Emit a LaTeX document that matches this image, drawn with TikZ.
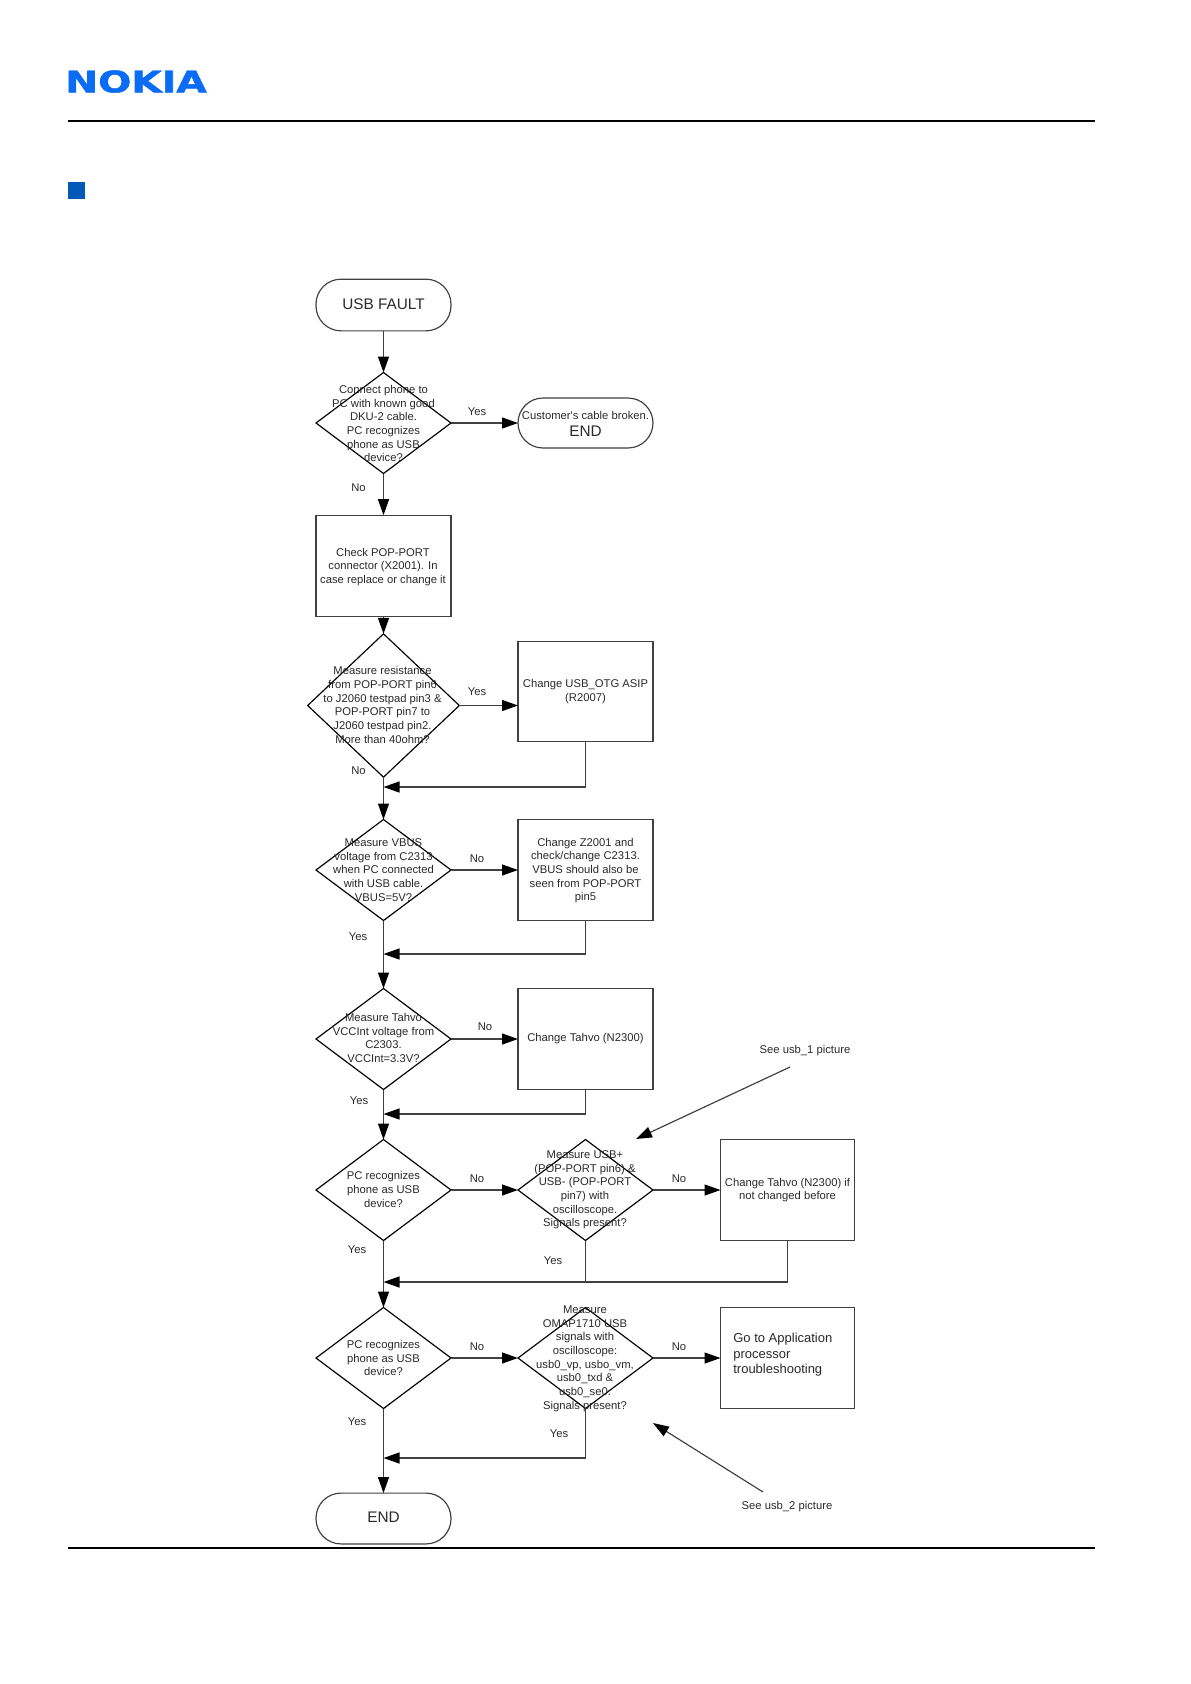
\documentclass[tikz,border=0pt]{standalone}
\usepackage{fontspec}
\usepackage{graphicx}
\setmainfont{Liberation Sans}[Ligatures=TeXOff]
\newfontfamily\nokfont{DejaVu Sans Bold}[FakeBold=1.5]
\usetikzlibrary{shapes.geometric,arrows.meta}
\definecolor{ink}{HTML}{2A2A2A}
\definecolor{nokblue}{HTML}{0A6CF5}
\definecolor{sqblue}{HTML}{0558B8}
\tikzset{
  x=0.6pt,y=-0.6pt,
  flow/.style={draw=black!75,line width=0.7pt},
  arr/.style={flow,-{Triangle[length=9.6pt,width=6.6pt,black]}},
  boxnode/.style={draw=black!75,line width=0.7pt,rectangle,inner sep=0pt,outer sep=0pt},
  ovalnode/.style={boxnode,rounded corners=15pt},
  dia/.style={draw=black,line width=0.7pt,diamond,shape aspect=1.34,inner sep=0pt,outer sep=0pt},
  txt/.style={align=center,text=ink,inner sep=0pt,font=\fontsize{6.75}{8.2}\selectfont},
  lab/.style={text=ink,inner sep=0pt,font=\fontsize{6.75}{8.2}\selectfont},
  big/.style={text=ink,inner sep=0pt,font=\fontsize{9.2}{11}\selectfont},
}
\begin{document}
\begin{tikzpicture}
\useasboundingbox (0,0) rectangle (1191,1684);
\fill[white] (0,0) rectangle (1191,1684);
% page furniture
\node[anchor=north west,inner sep=0pt,text=nokblue] (logo) at (65,70) {\resizebox{84.8pt}{13.2pt}{\nokfont NOKIA}};
\coordinate (tl) at (68,121); \coordinate (tr) at (1095,121);
\draw[line width=1.1pt] (tl) -- (tr);
\coordinate (bl) at (68,1548); \coordinate (br) at (1095,1548);
\draw[line width=1.1pt] (bl) -- (br);
\fill[sqblue] (68,182) rectangle (85,199);
% main column
\node[ovalnode,minimum width=81pt,minimum height=31pt] (start) at (383.5,305) {};
\node[big] (startt) at (383.5,304.5) {USB FAULT};
\node[dia,minimum width=81pt,minimum height=60.6pt] (d1) at (383.5,423) {};
\node[txt] (d1t) at (383.5,423.5) {Connect phone to\\PC with known good\\DKU-2 cable.\\PC recognizes\\phone as USB\\device?};
\node[ovalnode,minimum width=81pt,minimum height=30pt] (o1) at (585.5,423) {};
\node[txt] (o1a) at (585.5,415) {Customer's cable broken.};
\node[big] (o1b) at (585.5,431) {END};
\node[boxnode,minimum width=81pt,minimum height=61pt] (c1) at (383.5,566) {};
\node[txt] (c1t) at (383,567) {Check POP-PORT\\connector (X2001). In\\case replace or change it};
\node[dia,minimum width=91pt,minimum height=86pt] (d2) at (383.5,705.5) {};
\node[txt] (d2t) at (382.5,705) {Measure resistance\\from POP-PORT pin6\\to J2060 testpad pin3 \&\\POP-PORT pin7 to\\J2060 testpad pin2.\\More than 40ohm?};
\node[boxnode,minimum width=81pt,minimum height=60pt] (r2) at (585.5,691.5) {};
\node[txt] (r2t) at (585.5,691.5) {Change USB\_OTG ASIP\\(R2007)};
\node[dia,minimum width=81pt,minimum height=60.6pt] (d3) at (383.5,870) {};
\node[txt] (d3t) at (383.5,870) {Measure VBUS\\voltage from C2313\\when PC connected\\with USB cable.\\VBUS=5V?};
\node[boxnode,minimum width=81pt,minimum height=60.6pt] (r3) at (585.5,870) {};
\node[txt] (r3t) at (585.5,870.5) {Change Z2001 and\\check/change C2313.\\VBUS should also be\\seen from POP-PORT\\pin5};
\node[dia,minimum width=81pt,minimum height=60.6pt] (d4) at (383.5,1039) {};
\node[txt] (d4t) at (383.5,1038) {Measure Tahvo\\VCCInt voltage from\\C2303.\\VCCInt=3.3V?};
\node[boxnode,minimum width=81pt,minimum height=60.6pt] (r4) at (585.5,1039) {};
\node[txt] (r4t) at (585.5,1039) {Change Tahvo (N2300)};
\node[dia,minimum width=81pt,minimum height=60.6pt] (d5) at (383.5,1190) {};
\node[txt] (d5t) at (383.5,1189.5) {PC recognizes\\phone as USB\\device?};
\node[dia,minimum width=81pt,minimum height=60.6pt] (d5b) at (585.5,1190) {};
\node[txt] (d5bt) at (585,1190) {Measure USB+\\(POP-PORT pin6) \&\\USB- (POP-PORT\\pin7) with\\oscilloscope.\\Signals present?};
\node[boxnode,minimum width=80.4pt,minimum height=60.6pt] (r5) at (787.5,1190) {};
\node[txt] (r5t) at (787.5,1190) {Change Tahvo (N2300) if\\not changed before};
\node[dia,minimum width=81pt,minimum height=60.6pt] (d6) at (383.5,1358) {};
\node[txt] (d6t) at (383.5,1358) {PC recognizes\\phone as USB\\device?};
\node[dia,minimum width=81pt,minimum height=60.6pt] (d6b) at (585.5,1358) {};
\node[txt] (d6bt) at (585,1358.5) {Measure\\OMAP1710 USB\\signals with\\oscilloscope:\\usb0\_vp, usbo\_vm,\\usb0\_txd \&\\usb0\_se0.\\Signals present?};
\node[boxnode,minimum width=80.4pt,minimum height=60.6pt] (r6) at (787.5,1358) {};
\node[txt,align=left,anchor=west,font=\fontsize{7.8}{9.3}\selectfont] (r6t) at (733,1355) {Go to Application\\processor\\troubleshooting};
\node[ovalnode,minimum width=81pt,minimum height=30.5pt] (e) at (383.5,1518.5) {};
\node[big] (et) at (383.5,1517) {END};
% merge coordinates
\coordinate (m2) at (383.5,787);
\coordinate (m3) at (383.5,954);
\coordinate (m4) at (383.5,1114);
\coordinate (m5) at (383.5,1282);
\coordinate (m6) at (383.5,1458);
% connectors
\draw[arr] (start.south) -- (d1.north);
\draw[arr] (d1.east) -- (o1.west);
\draw[arr] (d1.south) -- (c1.north);
\draw[arr] (c1.south) -- (d2.north);
\draw[arr] (d2.east) -- (d2.east -| r2.west);
\draw[arr] (d2.south) -- (d3.north);
\draw[arr] (r2.south) |- (m2);
\draw[arr] (d3.east) -- (r3.west);
\draw[arr] (d3.south) -- (d4.north);
\draw[arr] (r3.south) |- (m3);
\draw[arr] (d4.east) -- (r4.west);
\draw[arr] (d4.south) -- (d5.north);
\draw[arr] (r4.south) |- (m4);
\draw[arr] (d5.east) -- (d5b.west);
\draw[arr] (d5b.east) -- (r5.west);
\draw[arr] (d5.south) -- (d6.north);
\draw[arr] (r5.south) |- (m5);
\draw[flow] (d5b.south) -- (d5b.south |- m5);
\draw[arr] (d6.east) -- (d6b.west);
\draw[arr] (d6b.east) -- (r6.west);
\draw[arr] (d6.south) -- (e.north);
\draw[arr] (d6b.south) |- (m6);
% notes
\node[lab] (n1) at (805,1050.5) {See usb\_1 picture};
\coordinate (n1s) at (790,1067); \coordinate (n1e) at (636,1139);
\draw[arr] (n1s) -- (n1e);
\node[lab] (n2) at (787,1506.5) {See usb\_2 picture};
\coordinate (n2s) at (763,1492); \coordinate (n2e) at (653,1423);
\draw[arr] (n2s) -- (n2e);
% labels
\node[lab] (l1) at (477,412) {Yes};
\node[lab] (l2) at (358.5,488) {No};
\node[lab] (l3) at (477,692) {Yes};
\node[lab] (l4) at (358.5,771) {No};
\node[lab] (l5) at (477,859) {No};
\node[lab] (l6) at (358,937) {Yes};
\node[lab] (l7) at (485,1027) {No};
\node[lab] (l8) at (359,1101) {Yes};
\node[lab] (l9) at (477,1178.5) {No};
\node[lab] (l10) at (679,1178.5) {No};
\node[lab] (l11) at (357,1250) {Yes};
\node[lab] (l12) at (553,1261) {Yes};
\node[lab] (l13) at (357,1422) {Yes};
\node[lab] (l14) at (477,1346.5) {No};
\node[lab] (l15) at (679,1346.5) {No};
\node[lab] (l16) at (559,1433.5) {Yes};
\end{tikzpicture}
\end{document}
